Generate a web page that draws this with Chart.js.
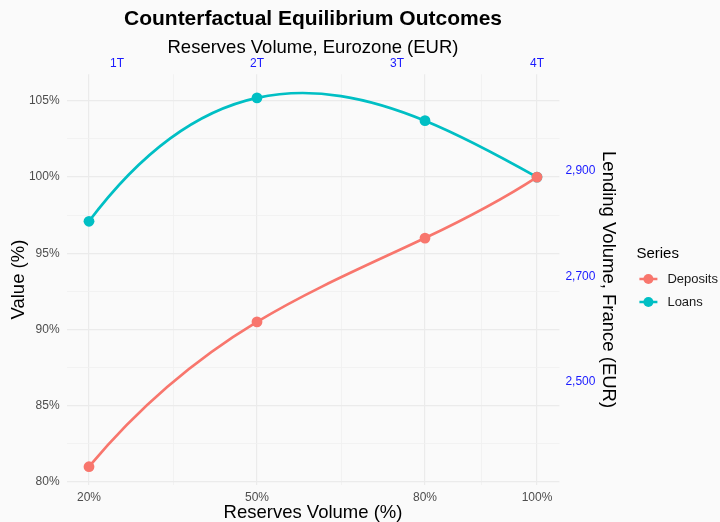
<!DOCTYPE html>
<html>
<head>
<meta charset="utf-8">
<script src="https://cdn.jsdelivr.net/npm/chart.js@4/dist/chart.umd.min.js"></script>
<style>
html,body{margin:0;padding:0;background:#fafafa;}
#wrap{width:720px;height:522px;}
</style>
</head>
<body>
<div id="wrap"><canvas id="c" width="720" height="522"></canvas></div>
<script>
// ---- data ----
const reservesPct = [20, 50, 80, 100];
const seriesNames = ['Deposits', 'Loans'];
const deposits = [81.0, 90.5, 96.0, 100.0];
const loans = [97.1, 105.2, 103.7, 100.0];
const xMajorTicks = [20, 50, 80, 100];
const xMinorTicks = [35, 65, 90];
const topTicks = [1, 2, 3, 4];
const topTickLabels = ['1T', '2T', '3T', '4T'];
const rightTicks = [2500, 2700, 2900];
const rightTickLabels = ['2,500', '2,700', '2,900'];
const trillionsPerPct = 1 / 25;     // top axis transform
const lendingPerPct = 28.88;        // right axis transform

const colors = ['#F8766D', '#00BFC4'];
const X_MIN = 16, X_MAX = 104, Y_MIN = 79.8, Y_MAX = 106.75;

const FONT = '"Liberation Sans", Arial, Helvetica, sans-serif';

const bgPlugin = {
  id: 'bg',
  beforeDraw(chart) {
    const ctx = chart.ctx;
    ctx.save();
    ctx.fillStyle = '#fafafa';
    ctx.fillRect(0, 0, chart.width, chart.height);
    ctx.restore();
  }
};

// Interpolating-spline smoothing: control points from the derivative of the
// polynomial through the (pixel) points, like R's spline() with 4 knots.
function polyDeriv(xs, ys, k) {
  const n = xs.length;
  let d = 0;
  for (let j = 0; j < n; j++) {
    let lj;
    if (j === k) {
      lj = 0;
      for (let m = 0; m < n; m++) if (m !== k) lj += 1 / (xs[k] - xs[m]);
    } else {
      let num = 1, den = 1;
      for (let m = 0; m < n; m++) {
        if (m !== j) den *= (xs[j] - xs[m]);
        if (m !== j && m !== k) num *= (xs[k] - xs[m]);
      }
      lj = num / den;
    }
    d += ys[j] * lj;
  }
  return d;
}
const splinePlugin = {
  id: 'spline',
  beforeDatasetDraw(chart, args) {
    const meta = args.meta;
    const line = meta.dataset;
    if (!line) return;
    line.updateControlPoints(chart.chartArea);
    const pts = meta.data;
    const xs = pts.map(p => p.x), ys = pts.map(p => p.y);
    const ds = xs.map((_, k) => polyDeriv(xs, ys, k));
    pts.forEach((p, i) => {
      if (i > 0) {
        const h = xs[i] - xs[i - 1];
        p.cp1x = xs[i] - h / 3; p.cp1y = ys[i] - h / 3 * ds[i];
      } else { p.cp1x = xs[i]; p.cp1y = ys[i]; }
      if (i < pts.length - 1) {
        const h = xs[i + 1] - xs[i];
        p.cp2x = xs[i] + h / 3; p.cp2y = ys[i] + h / 3 * ds[i];
      } else { p.cp2x = xs[i]; p.cp2y = ys[i]; }
    });
    line._pointsUpdated = true;
    delete line._path;
  }
};

const legendPlugin = {
  id: 'ggLegend',
  afterDraw(chart) {
    const ctx = chart.ctx;
    const x0 = chart.chartArea.right + 78;
    ctx.save();
    ctx.fillStyle = '#000';
    ctx.font = '15px ' + FONT;
    ctx.textBaseline = 'middle';
    ctx.textAlign = 'left';
    ctx.fillText('Series', x0 - 1, 254);
    chart.data.datasets.forEach((ds, i) => {
      const cy = 279 + i * 23;
      ctx.strokeStyle = ds.borderColor;
      ctx.lineWidth = 2.5;
      ctx.beginPath();
      ctx.moveTo(x0 + 2, cy);
      ctx.lineTo(x0 + 20, cy);
      ctx.stroke();
      ctx.fillStyle = ds.borderColor;
      ctx.beginPath();
      ctx.arc(x0 + 11, cy, 5, 0, Math.PI * 2);
      ctx.fill();
      ctx.fillStyle = '#1a1a1a';
      ctx.font = '13px ' + FONT;
      ctx.fillText(ds.label, x0 + 30, cy);
    });
    ctx.restore();
  }
};

const datasets = [deposits, loans].map((vals, i) => ({
  label: seriesNames[i],
  data: reservesPct.map((x, j) => ({ x: x, y: vals[j] })),
  borderColor: colors[i],
  backgroundColor: colors[i],
  borderWidth: 2.7,
  pointRadius: 5.4,
  pointHoverRadius: 5.4,
  pointBorderWidth: 0,
  tension: 0.4,
  capBezierPoints: false,
  xAxisID: 'x',
  yAxisID: 'y'
}));

new Chart(document.getElementById('c'), {
  type: 'line',
  data: { datasets: datasets },
  plugins: [bgPlugin, splinePlugin, legendPlugin],
  options: {
    responsive: false,
    animation: false,
    devicePixelRatio: 1,
    layout: { padding: { left: 0, right: 93.6, top: 6, bottom: 0 } },
    plugins: {
      legend: { display: false },
      tooltip: { enabled: false },
      title: {
        display: true,
        fullSize: false,
        text: 'Counterfactual Equilibrium Outcomes',
        color: '#000',
        font: { family: FONT, size: 21, weight: 'bold' },
        padding: { top: 1, bottom: 4 }
      }
    },
    scales: {
      x: {
        type: 'linear', position: 'bottom', min: X_MIN, max: X_MAX,
        afterFit(s) { s.height = 37; },
        afterBuildTicks(s) { s.ticks = xMajorTicks.concat(xMinorTicks).sort((a, b) => a - b).map(v => ({ value: v })); },
        ticks: {
          autoSkip: false, maxRotation: 0, color: '#4d4d4d', padding: 7,
          font: { family: FONT, size: 12, lineHeight: 1 },
          callback: v => xMajorTicks.includes(v) ? v + '%' : ''
        },
        grid: {
          drawTicks: false,
          color: ctx => (ctx.tick && xMinorTicks.includes(ctx.tick.value)) ? '#f0f0f0' : '#ebebeb',
          lineWidth: ctx => (ctx.tick && xMinorTicks.includes(ctx.tick.value)) ? 0.8 : 1.2
        },
        border: { display: false },
        title: { display: true, text: 'Reserves Volume (%)', color: '#000', font: { family: FONT, size: 18.5 }, padding: { top: 0, bottom: -2 } }
      },
      x2: {
        type: 'linear', position: 'top', min: X_MIN * trillionsPerPct, max: X_MAX * trillionsPerPct,
        afterFit(s) { s.height = 38; },
        afterBuildTicks(s) { s.ticks = topTicks.map(v => ({ value: v })); },
        ticks: {
          autoSkip: false, maxRotation: 0, color: '#1a1aff', padding: 3,
          font: { family: FONT, size: 12 },
          callback: (v, i) => topTickLabels[i]
        },
        grid: { display: false, drawTicks: false },
        border: { display: false },
        title: { display: true, text: 'Reserves Volume, Eurozone (EUR)', color: '#000', font: { family: FONT, size: 18.5 }, padding: { top: 1, bottom: 0 } }
      },
      y: {
        type: 'linear', position: 'left', min: Y_MIN, max: Y_MAX,
        afterFit(s) { s.width = 66.6; },
        afterBuildTicks(s) { const t = []; for (let v = 80; v <= 105.01; v += 2.5) t.push({ value: v }); s.ticks = t; },
        ticks: {
          autoSkip: false, color: '#4d4d4d', padding: 7,
          font: { family: FONT, size: 12 },
          callback: v => (Math.abs(v % 5) < 1e-6) ? v + '%' : ''
        },
        grid: {
          drawTicks: false,
          color: ctx => (ctx.tick && Math.abs(ctx.tick.value % 5) > 1e-6) ? '#f0f0f0' : '#ebebeb',
          lineWidth: ctx => (ctx.tick && Math.abs(ctx.tick.value % 5) > 1e-6) ? 0.8 : 1.2
        },
        border: { display: false },
        title: { display: true, text: 'Value (%)', color: '#000', font: { family: FONT, size: 18.5 }, padding: { top: 8, bottom: 0 } }
      },
      y2: {
        type: 'linear', position: 'right', min: Y_MIN * lendingPerPct, max: Y_MAX * lendingPerPct,
        afterFit(s) { s.width = 67; },
        afterBuildTicks(s) { s.ticks = rightTicks.map(v => ({ value: v })); },
        ticks: {
          autoSkip: false, color: '#1a1aff', padding: 6,
          font: { family: FONT, size: 12 },
          callback: (v, i) => rightTickLabels[i]
        },
        grid: { display: false, drawTicks: false },
        border: { display: false },
        title: { display: true, text: 'Lending Volume, France (EUR)', color: '#000', font: { family: FONT, size: 18.5 }, padding: { top: 7.3, bottom: 0 } }
      }
    }
  }
});
</script>
</body>
</html>
